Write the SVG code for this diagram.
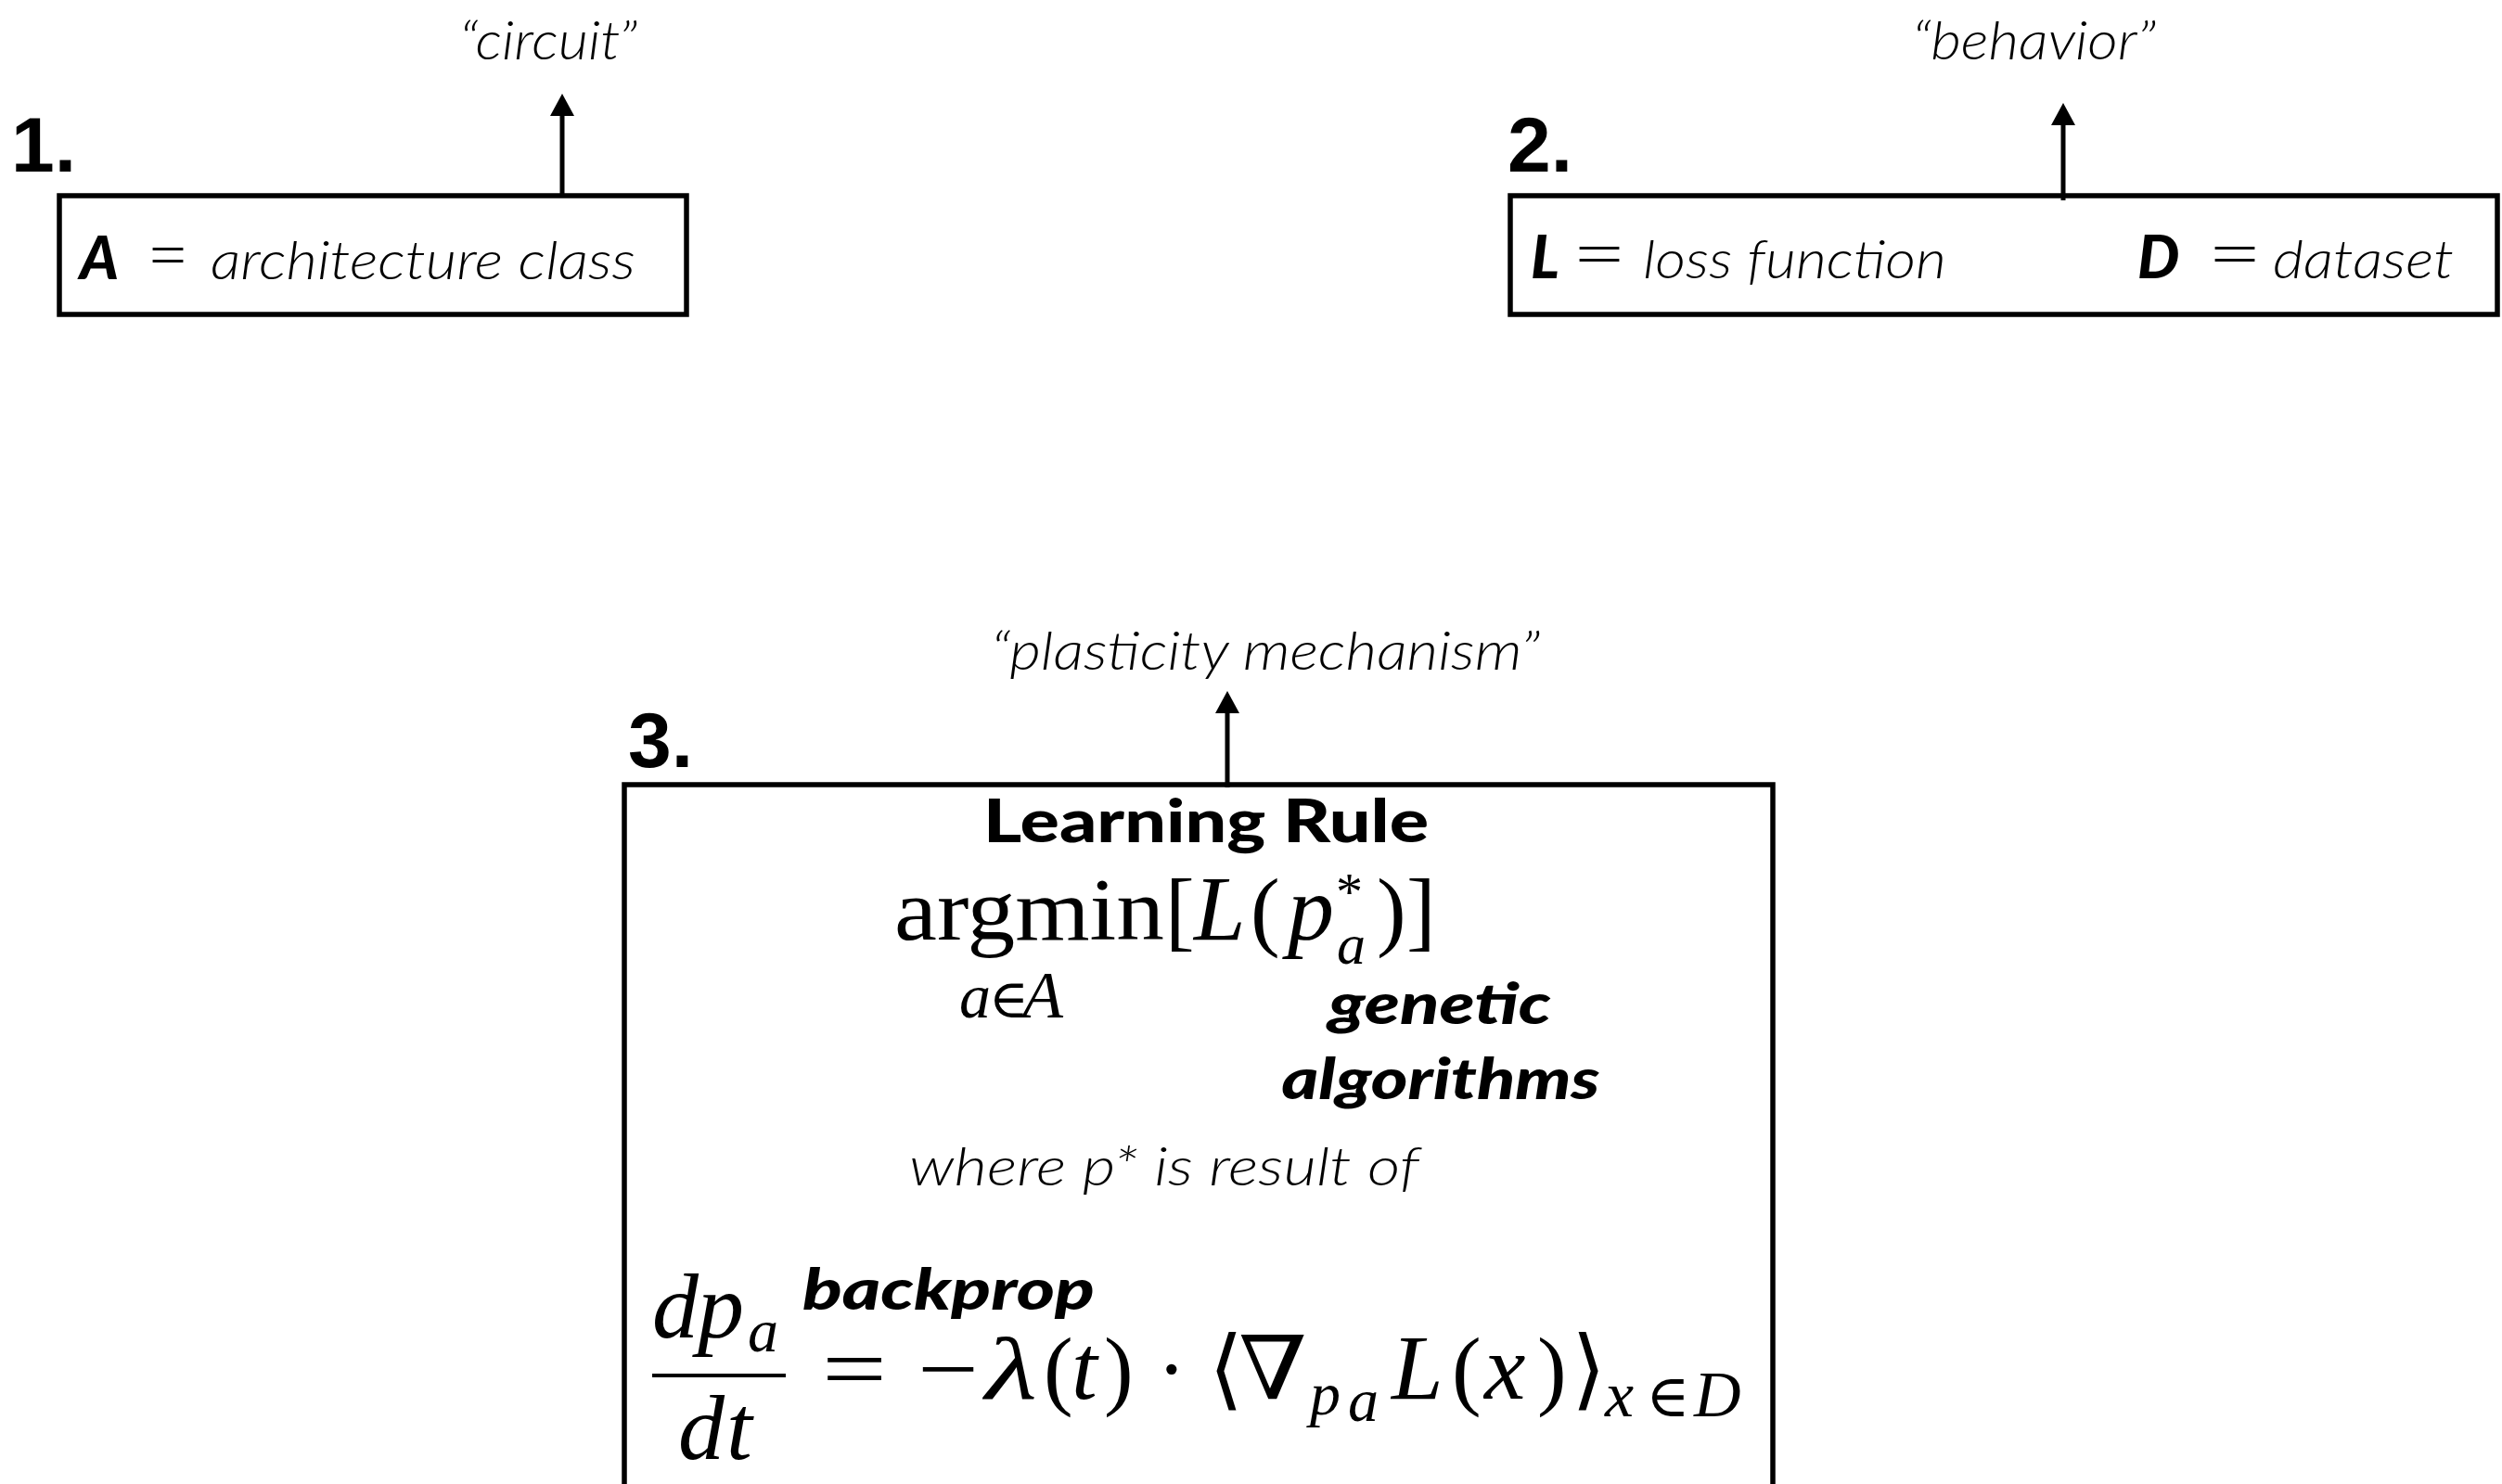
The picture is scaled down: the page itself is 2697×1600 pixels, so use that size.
<svg xmlns="http://www.w3.org/2000/svg" width="2697" height="1600" viewBox="0 0 2697 1600">
<defs>
<style>
.box{fill:none;stroke:#000;stroke-width:5.5}
.num{font-family:"Liberation Sans",Arial,sans-serif;font-weight:700;font-size:84px;fill:#000}
.li{font-family:Lato,"Open Sans",sans-serif;font-style:italic;font-weight:300;font-size:58px;fill:#000}
.eq{font-family:Lato,"Open Sans",sans-serif;font-weight:300;font-size:80px;fill:#000}
.bi{font-family:Lato,"Open Sans",sans-serif;font-style:italic;font-weight:900;font-size:64px;fill:#000}
.bu{font-family:Lato,"Open Sans",sans-serif;font-weight:900;font-size:64px;fill:#000}
.m{font-family:"Liberation Serif","DejaVu Serif",serif;font-size:95px;fill:#000}
.it{font-style:italic}
.conn{stroke:#000;stroke-width:5;fill:none}
</style>
<marker id="ah" viewBox="0 0 24 26" refX="4" refY="13" markerWidth="24" markerHeight="26" markerUnits="userSpaceOnUse" orient="auto">
<path d="M0,0 L24,13 L0,26 z" fill="#000"/>
</marker>
</defs>
<rect x="0" y="0" width="2697" height="1600" fill="#fff"/>

<g id="connectors">
<line class="conn" x1="606" y1="211" x2="606" y2="121" marker-end="url(#ah)"/>
<line class="conn" x1="2224" y1="216" x2="2224" y2="131" marker-end="url(#ah)"/>
<line class="conn" x1="1323" y1="849" x2="1323" y2="765" marker-end="url(#ah)"/>
<text class="li" x="495" y="64" textLength="192" lengthAdjust="spacingAndGlyphs">“circuit”</text>
<text class="li" x="2061" y="64" textLength="263" lengthAdjust="spacingAndGlyphs">“behavior”</text>
<text class="li" x="1068" y="722" textLength="592" lengthAdjust="spacingAndGlyphs">“plasticity mechanism”</text>
</g>

<g id="node-architecture">
<text class="num" x="12" y="185">1.</text>
<rect class="box" x="64" y="211" width="676" height="128"/>
<text class="bi" x="86" y="301">A</text>
<text class="eq" x="158" y="303" textLength="46" lengthAdjust="spacingAndGlyphs">=</text>
<text class="li" x="227" y="301" textLength="458" lengthAdjust="spacingAndGlyphs">architecture class</text>
</g>

<g id="node-loss-dataset">
<text class="num" x="1625" y="185">2.</text>
<rect class="box" x="1628" y="211" width="1064" height="128"/>
<text class="bi" x="1650" y="300">L</text>
<text class="eq" x="1694" y="302" textLength="60" lengthAdjust="spacingAndGlyphs">=</text>
<text class="li" x="1771" y="300" textLength="327" lengthAdjust="spacingAndGlyphs">loss function</text>
<text class="bi" x="2304" y="300">D</text>
<text class="eq" x="2379" y="302" textLength="60" lengthAdjust="spacingAndGlyphs">=</text>
<text class="li" x="2450" y="300" textLength="195" lengthAdjust="spacingAndGlyphs">dataset</text>
</g>

<g id="node-learning-rule">
<text class="num" x="677" y="827">3.</text>
<rect class="box" x="673" y="846" width="1238" height="800"/>
<text class="bu" x="1300" y="908" text-anchor="middle" textLength="480" lengthAdjust="spacingAndGlyphs">Learning Rule</text>
<text class="m"><tspan x="964" y="1013" textLength="291" lengthAdjust="spacingAndGlyphs">argmin</tspan><tspan x="1256" y="1013">[</tspan><tspan class="it" x="1287" y="1013" style="font-size:100px">L</tspan><tspan x="1348" y="1013">(</tspan><tspan class="it" x="1388" y="1013" style="font-size:100px">p</tspan><tspan x="1440" y="981" style="font-size:58px">*</tspan><tspan class="it" x="1441" y="1039" style="font-size:62px">a</tspan><tspan x="1484" y="1013">)</tspan><tspan x="1516" y="1013">]</tspan></text>
<text class="m"><tspan class="it" x="1034" y="1097" style="font-size:68px">a</tspan><tspan x="1066" y="1097" style="font-size:58px">∈</tspan><tspan class="it" x="1102" y="1097" style="font-size:72px">A</tspan></text>
<text class="bi" x="1552" y="1104" text-anchor="middle" textLength="240" lengthAdjust="spacingAndGlyphs" style="font-size:60px">genetic</text>
<text class="bi" x="1553" y="1185" text-anchor="middle" textLength="343" lengthAdjust="spacingAndGlyphs" style="font-size:60px">algorithms</text>
<text class="li" x="980" y="1278" textLength="550" lengthAdjust="spacingAndGlyphs">where p* is result of</text>
<text class="bi" x="865" y="1412" textLength="315" lengthAdjust="spacingAndGlyphs" style="font-size:60px">backprop</text>
<text class="m it"><tspan x="703" y="1442" style="font-size:100px">d</tspan><tspan x="752" y="1442" style="font-size:100px">p</tspan><tspan x="806" y="1457" style="font-size:66px">a</tspan></text>
<line x1="703" y1="1483" x2="847" y2="1483" stroke="#000" stroke-width="4"/>
<text class="m it"><tspan x="731" y="1573" style="font-size:100px">d</tspan><tspan x="783" y="1573" style="font-size:100px">t</tspan></text>
<text class="m"><tspan x="886" y="1508" textLength="70" lengthAdjust="spacingAndGlyphs">=</tspan><tspan x="989" y="1508" textLength="66" lengthAdjust="spacingAndGlyphs">−</tspan><tspan class="it" x="1062" y="1508" textLength="56" lengthAdjust="spacingAndGlyphs">λ</tspan><tspan x="1125" y="1508">(</tspan><tspan class="it" x="1155" y="1508" style="font-size:100px">t</tspan><tspan x="1190" y="1508">)</tspan><tspan x="1247" y="1508">·</tspan><tspan x="1303" y="1508">⟨</tspan><tspan x="1335" y="1508" textLength="74" lengthAdjust="spacingAndGlyphs">∇</tspan><tspan class="it" x="1412" y="1525" style="font-size:66px">p</tspan><tspan class="it" x="1453" y="1532" style="font-size:66px">a</tspan><tspan class="it" x="1500" y="1508" style="font-size:100px">L</tspan><tspan x="1565" y="1508">(</tspan><tspan class="it" x="1600" y="1508" style="font-size:100px">x</tspan><tspan x="1657" y="1508">)</tspan><tspan x="1694" y="1508">⟩</tspan><tspan class="it" x="1730" y="1527" style="font-size:70px">x</tspan><tspan x="1774" y="1527" style="font-size:64px">∈</tspan><tspan class="it" x="1826" y="1527" style="font-size:70px">D</tspan></text>
</g>
</svg>
